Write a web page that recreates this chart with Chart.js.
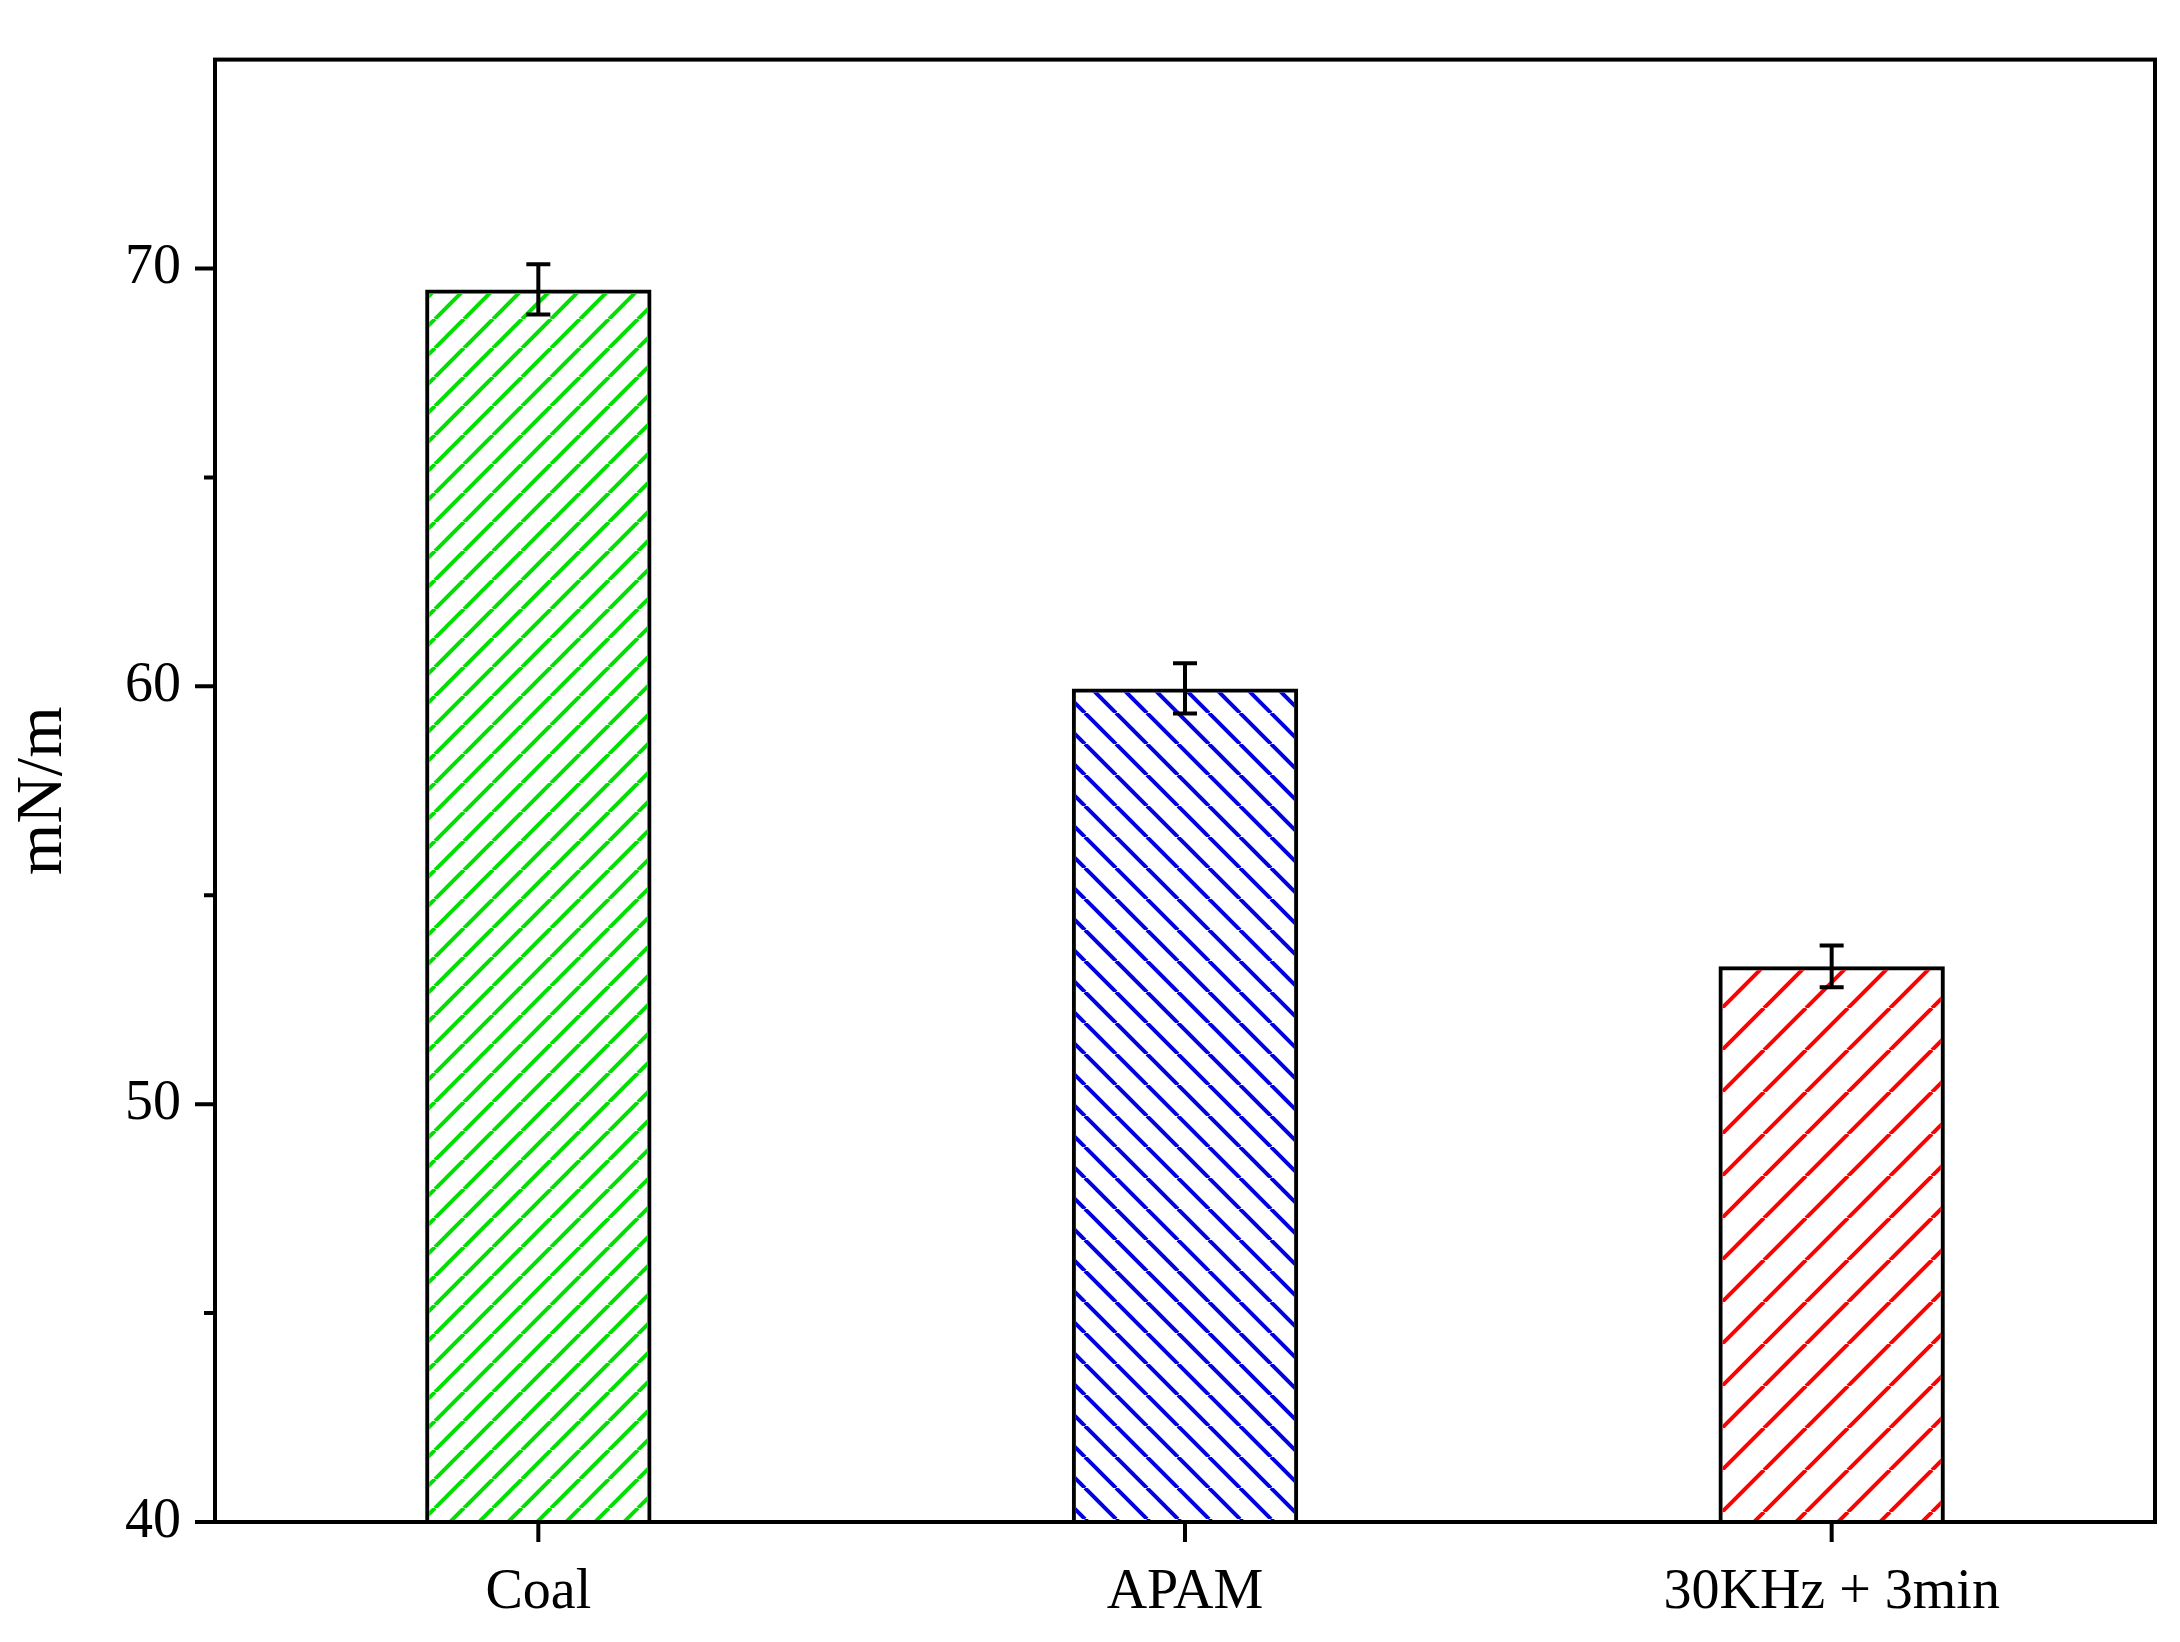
<!DOCTYPE html>
<html><head><meta charset="utf-8">
<script src="https://cdn.jsdelivr.net/npm/chart.js@4.4.1/dist/chart.umd.min.js"></script>
<style>body{margin:0;background:#fff}canvas{display:block}</style>
</head><body>
<canvas id="c" width="2180" height="1642"></canvas>
<script>
const categories = ['Coal', 'APAM', '30KHz + 3min'];
const values = [69.5, 59.95, 53.3];
const errors = [0.6, 0.6, 0.5];
const hatchColors = ['#00e000', '#0000e0', '#ff0000'];
const yTicks = [40, 50, 60, 70];
const yMinor = [45, 55, 65];

function hatch(color, gap, dir) {
  const c = document.createElement('canvas');
  c.width = gap; c.height = gap;
  const g = c.getContext('2d');
  g.strokeStyle = color; g.lineWidth = 4;
  for (let k = -1; k <= 1; k++) {
    g.beginPath();
    if (dir > 0) { g.moveTo(k * gap, gap); g.lineTo(k * gap + gap, 0); }
    else { g.moveTo(k * gap, 0); g.lineTo(k * gap + gap, gap); }
    g.stroke();
  }
  return document.getElementById('c').getContext('2d').createPattern(c, 'repeat');
}
const fills = [hatch(hatchColors[0], 29, 1), hatch(hatchColors[1], 31, -1), hatch(hatchColors[2], 42, 1)];

const extras = {
  id: 'extras',
  afterDatasetsDraw(chart) {
    const ctx = chart.ctx, y = chart.scales.y, a = chart.chartArea;
    const meta = chart.getDatasetMeta(0);
    ctx.save();
    ctx.strokeStyle = '#000'; ctx.lineWidth = 4;
    meta.data.forEach((bar, i) => {
      const hi = y.getPixelForValue(values[i] + errors[i]);
      const lo = y.getPixelForValue(values[i] - errors[i]);
      ctx.beginPath();
      ctx.moveTo(bar.x, hi); ctx.lineTo(bar.x, lo);
      ctx.moveTo(bar.x - 12, hi); ctx.lineTo(bar.x + 12, hi);
      ctx.moveTo(bar.x - 12, lo); ctx.lineTo(bar.x + 12, lo);
      ctx.stroke();
    });
    ctx.strokeRect(a.left, a.top, a.right - a.left, a.bottom - a.top);
    ctx.beginPath();
    yTicks.forEach(v => { const p = y.getPixelForValue(v); ctx.moveTo(a.left, p); ctx.lineTo(a.left - 20, p); });
    yMinor.forEach(v => { const p = y.getPixelForValue(v); ctx.moveTo(a.left, p); ctx.lineTo(a.left - 11, p); });
    meta.data.forEach(bar => { ctx.moveTo(bar.x, a.bottom); ctx.lineTo(bar.x, a.bottom + 20); });
    ctx.stroke();
    ctx.restore();
  }
};

new Chart(document.getElementById('c'), {
  type: 'bar',
  data: {
    labels: categories,
    datasets: [{
      data: values,
      backgroundColor: fills,
      borderColor: '#000',
      borderWidth: 4,
      borderSkipped: false,
      categoryPercentage: 1,
      barPercentage: 0.35
    }]
  },
  options: {
    responsive: false,
    animation: false,
    layout: { padding: { top: 21, right: 25, left: 0, bottom: 0 } },
    plugins: { legend: { display: false }, tooltip: { enabled: false } },
    scales: {
      x: {
        afterFit: s => { s.height = 120; },
        grid: { display: false },
        border: { display: false },
        ticks: { color: '#000', padding: 30, font: { family: 'Liberation Serif', size: 56 } }
      },
      y: {
        min: 40, max: 75,
        afterFit: s => { s.width = 215; },
        afterBuildTicks: s => { s.ticks = yTicks.map(v => ({ value: v })); },
        grid: { display: false },
        border: { display: false },
        title: { display: true, text: 'mN/m', color: '#000', padding: { bottom: 10 }, font: { family: 'Liberation Serif', size: 66 } },
        ticks: { color: '#000', padding: 26, font: { family: 'Liberation Serif', size: 56 } }
      }
    }
  },
  plugins: [extras]
});
</script>
</body></html>
